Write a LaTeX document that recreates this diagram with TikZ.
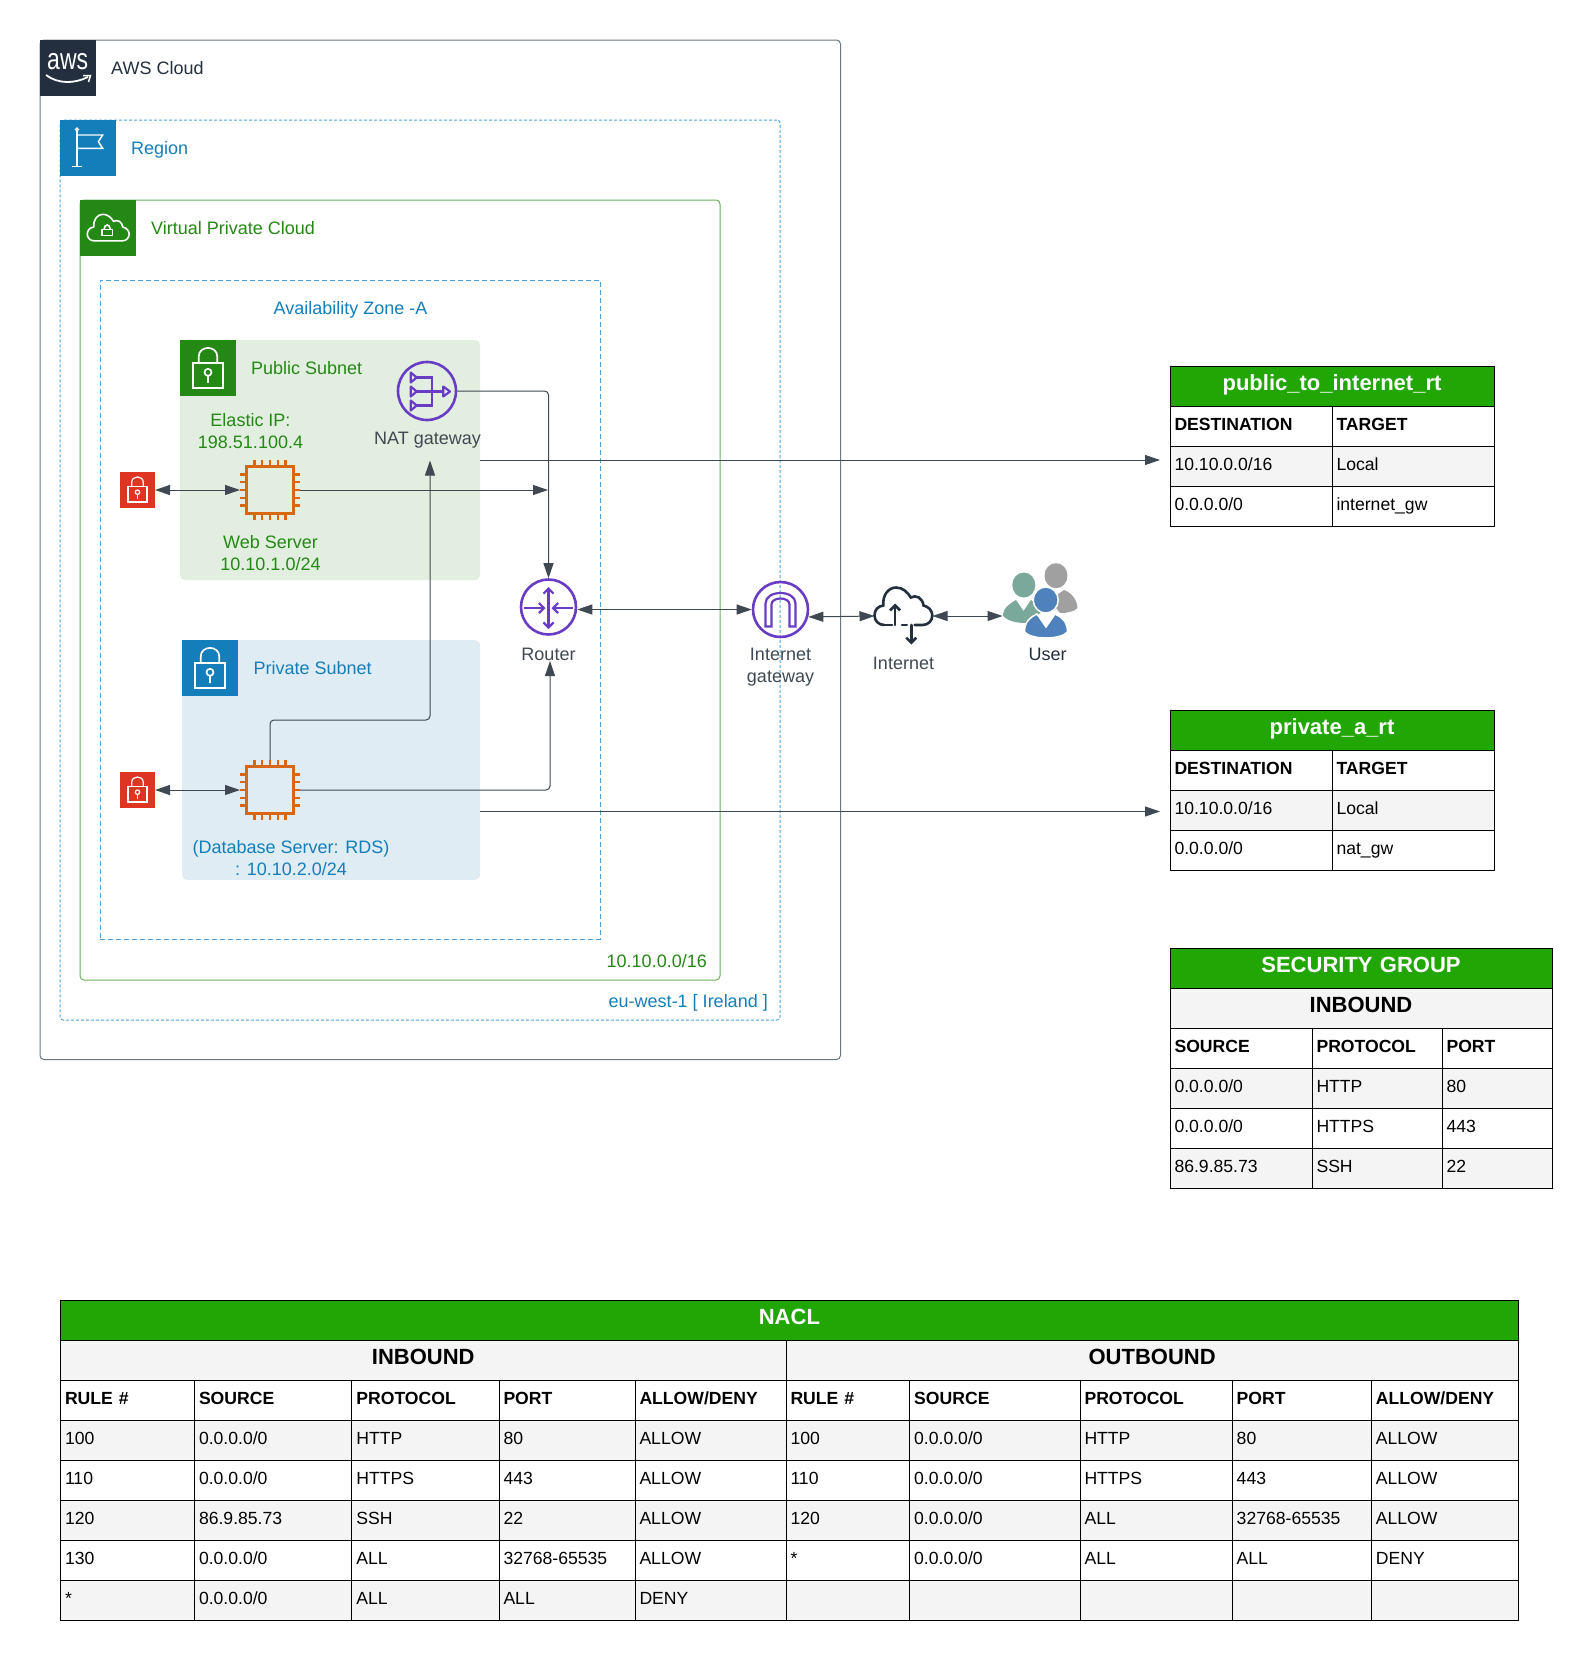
\documentclass[tikz,border=0pt]{standalone}
\usepackage{fontspec}
\setmainfont{Liberation Sans}
\usetikzlibrary{arrows.meta}
\definecolor{awsnavy}{HTML}{232F3E}
\definecolor{awsblue}{HTML}{147EBA}
\definecolor{awsgreen}{HTML}{248814}
\definecolor{awspurple}{HTML}{693CC5}
\definecolor{chiporange}{HTML}{D86613}
\definecolor{lockred}{HTML}{DD3522}
\definecolor{linegray}{HTML}{3F4853}
\definecolor{cloudgray}{HTML}{6C7680}
\definecolor{dashblue}{HTML}{4FA3DB}
\definecolor{vpcline}{HTML}{6AAF58}
\definecolor{pubfill}{HTML}{E2EFE0}
\definecolor{prvfill}{HTML}{DFECF4}
\definecolor{headgreen}{HTML}{21A605}
\definecolor{rowgray}{HTML}{F4F4F4}
\definecolor{usergray}{HTML}{A0A0A0}
\definecolor{userteal}{HTML}{7AA89A}
\definecolor{userblue}{HTML}{4F81BD}
\tikzset{
	>={Triangle[length=15pt,width=10pt]},
	chevron/.tip={Straight Barb[length=5pt,width=10pt]},
	areabox/.style={anchor=north west, inner sep=0, outer sep=0, line width=1pt},
	iconbox/.style={anchor=north west, minimum size=56pt, inner sep=0, outer sep=0},
	lbl/.style={inner sep=0, align=center, font=\fontsize{18}{22}\selectfont},
	chipbox/.style={draw=chiporange, line width=2.6pt, minimum size=47pt, inner sep=0, outer sep=6.5pt},
	gatebox/.style={circle, draw=awspurple, line width=2.6pt, minimum size=55pt, inner sep=0},
	flow/.style={draw=linegray, line width=1pt, rounded corners=4pt},
	cellbase/.style={draw=black, line width=1pt, anchor=north west, minimum height=40pt, inner xsep=4.5pt, inner ysep=0, outer sep=0, text height=13.5pt, text depth=6.5pt, font=\fontsize{17.6}{21}\selectfont},
	bodycell/.style={cellbase, align=left, fill=white},
	graycell/.style={cellbase, align=left, fill=rowgray},
	namecell/.style={cellbase, align=left, fill=white, font=\fontsize{17.6}{21}\selectfont\bfseries},
	sidecell/.style={cellbase, align=center, fill=rowgray, font=\fontsize{22}{26}\selectfont\bfseries},
	titlecell/.style={cellbase, align=center, fill=headgreen, text=white, font=\fontsize{22}{26}\selectfont\bfseries}
}
\newcommand{\tablerow}[5]{%
	\foreach \ctext [count=\ci] in {#5} {
		\pgfmathsetmacro{\cx}{{#3}[\ci-1]}
		\pgfmathsetmacro{\cnext}{{#3}[\ci]}
		\pgfmathsetmacro{\cw}{\cnext-\cx}
		\node[#4, minimum width=\cw pt, text width=\cw pt-9pt] (#1\ci) at (\cx,#2) {\ctext};
	}
}
\newcommand{\lockglyph}[4]{%
	\begin{scope}[shift={(#1,#2)}, scale=#3, draw=white, line width=#4]
		\draw (12.7,22.7) rectangle (43.3,48);
		\draw (18.7,22.7) -- (18.7,16.7) .. controls (18.7,5) and (37.3,5) .. (37.3,16.7) -- (37.3,22.7);
		\draw (28,32.3) circle [radius=3.5];
		\draw (28,35.8) -- (28,43);
	\end{scope}
}
\newcommand{\chippins}[2]{%
	\foreach \p in {-15.6,-7.8,0,7.8,15.6} {
		\draw[chiporange, line width=2.4pt] (#1+\p,#2-30) -- (#1+\p,#2-24);
		\draw[chiporange, line width=2.4pt] (#1+\p,#2+30) -- (#1+\p,#2+24);
		\draw[chiporange, line width=2.4pt] (#1-30,#2+\p) -- (#1-24,#2+\p);
		\draw[chiporange, line width=2.4pt] (#1+30,#2+\p) -- (#1+24,#2+\p);
	}
}
\newcommand{\cloudoutline}{(10,37.5) .. controls (4,37.5) and (0,33) .. (0,28) .. controls (0,22) and (4,18.5) .. (9,18) .. controls (8,8) and (14,0) .. (22,0) .. controls (29,0) and (34,5) .. (37,10) .. controls (42,7) and (49,10) .. (50,18) .. controls (55,19) and (59,23) .. (59,28) .. controls (59,33) and (55,37.5) .. (49,37.5)}
\begin{document}
\begin{tikzpicture}[x=1pt, y=-1pt]
	\useasboundingbox (0,0) rectangle (1591,1660);

	\node[areabox, draw=cloudgray, rounded corners=4pt, minimum width=800.5pt, minimum height=1019.5pt] (awscloud) at (40,40) {};
	\node[areabox, draw=dashblue, dash pattern=on 3pt off 2pt, rounded corners=3pt, minimum width=720pt, minimum height=900pt] (region) at (60,120) {};
	\node[areabox, draw=vpcline, rounded corners=4pt, minimum width=640pt, minimum height=780pt] (vpc) at (80,200) {};
	\node[areabox, draw=dashblue, dash pattern=on 5pt off 3pt, minimum width=500pt, minimum height=659pt] (azone) at (100,280) {};
	\node[areabox, fill=pubfill, rounded corners=5pt, minimum width=300pt, minimum height=240pt] (pubsubnet) at (180,340) {};
	\node[areabox, fill=prvfill, rounded corners=5pt, minimum width=298pt, minimum height=240pt] (prvsubnet) at (182,640) {};

	\node[iconbox, fill=awsnavy] (awsicon) at (40,40) {};
	\node[inner sep=0, text=white, font=\fontsize{23}{23}\selectfont] (awstext) at (67.7,62) {\scalebox{1}[1.3]{aws}};
	\draw[white, line width=1.8pt] (46,75) .. controls (58,84) and (74,84) .. (88,77);
	\draw[white, line width=1.5pt] (83,75.5) -- (90.5,75.5) -- (88.5,82);
	\node[iconbox, fill=awsblue] (regionicon) at (60,120) {};
	\draw[white, line width=1.4pt] (77,131) -- (77,166.5);
	\draw[white, line width=1.4pt] (72.3,166.7) -- (81.7,166.7);
	\draw[white, line width=1.2pt] (77,129.5) circle [radius=1.5];
	\draw[white, line width=1.4pt] (77,135) -- (102.7,135) -- (98.3,141.7) -- (102.7,148.3) -- (77,148.3);
	\node[iconbox, fill=awsgreen] (vpcicon) at (80,200) {};
	\begin{scope}[shift={(87.3,214.3)}, scale=0.71]
		\draw[white, line width=1.6pt] \cloudoutline -- cycle;
		\draw[white, line width=1.6pt] (20.5,21.5) rectangle (35.5,30);
		\draw[white, line width=1.6pt] (23.5,21.5) .. controls (23.5,13) and (32.5,13) .. (32.5,21.5);
	\end{scope}
	\node[iconbox, fill=awsgreen] (pubicon) at (180,340) {};
	\lockglyph{180}{340}{1}{1.7pt}
	\node[iconbox, fill=awsblue] (prvicon) at (182,640) {};
	\lockglyph{182}{640}{1}{1.7pt}

	\node[lbl, anchor=west, text=awsnavy] (awslabel) at (111,68) {AWS Cloud};
	\node[lbl, anchor=west, text=awsblue] (regionlabel) at (131,150) {Region};
	\node[lbl, anchor=west, text=awsgreen] (vpclabel) at (151,228) {Virtual Private Cloud};
	\node[lbl, text=awsblue] (azlabel) at (350.5,310) {Availability Zone -A};
	\node[lbl, anchor=west, text=awsgreen] (publabel) at (251,368) {Public Subnet};
	\node[lbl, anchor=west, text=awsblue] (prvlabel) at (253.5,668) {Private Subnet};
	\node[lbl, text=awsgreen] (eiplabel) at (250.5,431) {Elastic IP:\\198.51.100.4};
	\node[lbl, text=awsgreen] (weblabel) at (270.5,553) {Web Server\\10.10.1.0/24};
	\node[lbl, text=awsblue] (dblabel) at (291,858) {(Database Server: RDS)\\: 10.10.2.0/24};
	\node[lbl, anchor=east, text=awsgreen] (cidrlabel) at (707,961) {10.10.0.0/16};
	\node[lbl, anchor=east, text=awsblue] (regionname) at (768,1003) {eu-west-1 [ Ireland ]};

	\node[iconbox, fill=lockred, minimum width=35pt, minimum height=36pt] (weblock) at (120,472) {};
	\lockglyph{120}{472}{0.625}{1.2pt}
	\node[iconbox, fill=lockred, minimum width=35pt, minimum height=36pt] (dblock) at (120,772) {};
	\lockglyph{120}{772}{0.625}{1.2pt}

	\node[chipbox] (webserver) at (270,490) {};
	\chippins{270}{490}
	\node[chipbox] (dbserver) at (270,790) {};
	\chippins{270}{790}

	\node[gatebox, minimum size=58pt] (natgw) at (427,391) {};
	\begin{scope}[shift={(427,391.5)}, draw=awspurple, line width=2.2pt]
		\draw (-11,-14) -- (5,-14) -- (5,14) -- (-11,14);
		\draw (-11,0) -- (16,0);
		\foreach \ty in {-14,0,14} {
			\draw[fill=pubfill, line join=round] (-16.3,\ty-5) -- (-10.3,\ty) -- (-16.3,\ty+5) -- cycle;
		}
		\draw[fill=pubfill, line join=round] (16.3,-5) -- (23,0) -- (16.3,5) -- cycle;
	\end{scope}
	\node[lbl, text=linegray] (natlabel) at (427.5,440) {NAT gateway};

	\node[gatebox] (router) at (548.5,607) {};
	\begin{scope}[shift={(548.5,608)}, draw=awspurple, line width=2.2pt]
		\draw[chevron-chevron] (0,-21) -- (0,21);
		\draw[-chevron] (-24.6,0) -- (-3,0);
		\draw[-chevron] (24.6,0) -- (3,0);
	\end{scope}
	\node[lbl, text=linegray] (routerlabel) at (548.5,654) {Router};

	\node[gatebox] (igw) at (780.5,609.5) {};
	\begin{scope}[shift={(780.5,609.5)}, draw=awspurple, line width=2.2pt]
		\draw (-15,17) -- (-15,-6) .. controls (-15,-20) and (15,-20) .. (15,-6) -- (15,17) -- (9,17) -- (9,-5) .. controls (9,-13) and (-9,-13) .. (-9,-5) -- (-9,17) -- cycle;
	\end{scope}
	\node[lbl, text=linegray] (igwlabel) at (780.5,667) {Internet\\gateway};

	\node[inner sep=0, outer sep=0, minimum width=58pt, minimum height=58pt] (internet) at (903.5,616) {};
	\begin{scope}[shift={(874.5,587.5)}, xscale=0.98, draw=awsnavy, line width=2.6pt]
		\draw[line cap=round] \cloudoutline -- (41,37.5);
		\draw[line cap=round] (10,37.5) -- (18,37.5);
		\draw[line cap=round] (28,37.5) -- (33,37.5);
		\draw[chevron-, line cap=round] (21,16) -- (21,37.5);
		\draw[-chevron, line cap=round] (37.5,37.5) -- (37.5,57);
	\end{scope}
	\node[lbl, text=linegray] (internetlabel) at (903.5,663) {Internet};

	\node[inner sep=0, outer sep=0, minimum width=76pt, minimum height=44pt] (users) at (1040.5,616) {};
	\fill[usergray] (1056,575.7) ellipse [x radius=11.5, y radius=12.5];
	\fill[usergray] (1064,590) .. controls (1072,593) and (1077,600) .. (1077.5,608) .. controls (1074,612) and (1066,613) .. (1060,613) -- (1050,600) -- cycle;
	\fill[userteal] (1023.8,585) ellipse [x radius=11.5, y radius=12.5];
	\fill[userteal] (1003,616) .. controls (1003,608) and (1009,604) .. (1016,600) -- (1023.5,611) -- (1031,600) .. controls (1036,603) and (1040,606) .. (1042,612) -- (1026,623) .. controls (1016,623) and (1008,621) .. (1003,616) -- cycle;
	\filldraw[fill=userblue, draw=white, line width=1.5pt] (1024.5,632) .. controls (1024.5,622) and (1030,617) .. (1037,614) -- (1046,627) -- (1055,614) .. controls (1062,617) and (1067.5,622) .. (1067.5,632) .. controls (1060,640) and (1032,640) .. (1024.5,632) -- cycle;
	\filldraw[fill=userblue, draw=white, line width=1.5pt] (1045.7,600) ellipse [x radius=12.5, y radius=13];
	\node[lbl, text=awsnavy] (userlabel) at (1047.5,654) {User};

	\coordinate (webin) at (548,490);
	\coordinate (natin) at (430,460.5);
	\coordinate (dbbend) at (430,720);
	\coordinate (routerin) at (550,661);
	\coordinate (pubrt) at (1160,460);
	\coordinate (prvout) at (480,811.5);
	\coordinate (prvrt) at (1160,811.5);

	\draw[flow, <->] (weblock.east) -- (webserver.west);
	\draw[flow, <->] (dblock.east) -- (dbserver.west);
	\draw[flow, ->] (webserver.east) -- (webin);
	\draw[flow, ->] (natgw.east) -| (router.north);
	\draw[flow, ->] (dbserver.north) |- (dbbend) -- (natin);
	\draw[flow, ->] (dbserver.east) -| (routerin);
	\draw[flow, <->] (router.east |- igw.west) -- (igw.west);
	\draw[flow, <->] (igw.-15) -- (internet.west);
	\draw[flow, <->] (internet.east) -- (users.west);
	\draw[flow, ->] (pubsubnet.east) -- (pubrt);
	\draw[flow, ->] (prvout) -- (prvrt);

	\def\rtx{1170,1332,1494}
	\tablerow{pubtitle}{366.5}{1170,1494}{titlecell}{public\_to\_internet\_rt}
	\tablerow{pubhead}{406.5}{\rtx}{namecell}{DESTINATION,TARGET}
	\tablerow{pubone}{446.5}{\rtx}{graycell}{10.10.0.0/16,Local}
	\tablerow{pubtwo}{486.5}{\rtx}{bodycell}{0.0.0.0/0,internet\_gw}

	\tablerow{prvtitle}{710.5}{1170,1494}{titlecell}{private\_a\_rt}
	\tablerow{prvhead}{750.5}{\rtx}{namecell}{DESTINATION,TARGET}
	\tablerow{prvone}{790.5}{\rtx}{graycell}{10.10.0.0/16,Local}
	\tablerow{prvtwo}{830.5}{\rtx}{bodycell}{0.0.0.0/0,nat\_gw}

	\def\sgx{1170,1312,1442,1552}
	\tablerow{sgtitle}{948.5}{1170,1552}{titlecell}{SECURITY GROUP}
	\tablerow{sgside}{988.5}{1170,1552}{sidecell}{INBOUND}
	\tablerow{sghead}{1028.5}{\sgx}{namecell}{SOURCE,PROTOCOL,PORT}
	\tablerow{sgone}{1068.5}{\sgx}{graycell}{0.0.0.0/0,HTTP,80}
	\tablerow{sgtwo}{1108.5}{\sgx}{bodycell}{0.0.0.0/0,HTTPS,443}
	\tablerow{sgthree}{1148.5}{\sgx}{graycell}{86.9.85.73,SSH,22}

	\def\naclx{60.5,194.5,351.9,499,635,786,909.7,1080,1232.2,1371.4,1518.3}
	\tablerow{acltitle}{1300.5}{60.5,1518.3}{titlecell}{NACL}
	\tablerow{aclside}{1340.5}{60.5,786,1518.3}{sidecell}{INBOUND,OUTBOUND}
	\tablerow{aclhead}{1380.5}{\naclx}{namecell}{RULE \#,SOURCE,PROTOCOL,PORT,ALLOW/DENY,RULE \#,SOURCE,PROTOCOL,PORT,ALLOW/DENY}
	\tablerow{aclone}{1420.5}{\naclx}{graycell}{100,0.0.0.0/0,HTTP,80,ALLOW,100,0.0.0.0/0,HTTP,80,ALLOW}
	\tablerow{acltwo}{1460.5}{\naclx}{bodycell}{110,0.0.0.0/0,HTTPS,443,ALLOW,110,0.0.0.0/0,HTTPS,443,ALLOW}
	\tablerow{aclthree}{1500.5}{\naclx}{graycell}{120,86.9.85.73,SSH,22,ALLOW,120,0.0.0.0/0,ALL,32768-65535,ALLOW}
	\tablerow{aclfour}{1540.5}{\naclx}{bodycell}{130,0.0.0.0/0,ALL,32768-65535,ALLOW,*,0.0.0.0/0,ALL,ALL,DENY}
	\tablerow{aclfive}{1580.5}{\naclx}{graycell}{*,0.0.0.0/0,ALL,ALL,DENY,{},{},{},{},{}}
\end{tikzpicture}
\end{document}
